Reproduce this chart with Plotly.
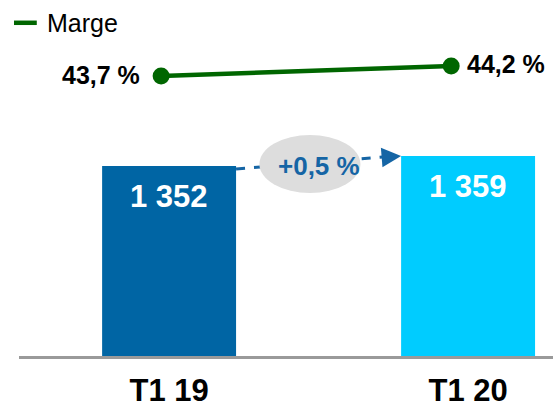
import plotly.graph_objects as go

categories = ["T1 19", "T1 20"]
revenue = [1352, 1359]
revenue_labels = ["1 352", "1 359"]
margin_pct = [43.7, 44.2]
margin_labels = ["43,7 %", "44,2 %"]
growth_label = "+0,5 %"
series_name = "Marge"

FONT = "Arial, 'Liberation Sans', sans-serif"
bar_colors = ["#0065A4", "#00CCFF"]
green = "#006600"
arrow_blue = "#1565A5"

fig = go.Figure()
fig.add_trace(go.Bar(
    x=categories, y=revenue, marker=dict(color=bar_colors, line=dict(width=0)),
    width=0.448, showlegend=False, hoverinfo="skip",
))
fig.add_trace(go.Scatter(
    x=categories, y=margin_pct, xaxis="x2", yaxis="y2", mode="lines+markers",
    name=series_name, line=dict(color=green, width=4.5),
    marker=dict(size=17, color=green), showlegend=False,
))

mid = revenue[0] + 1.4
ann = []
for c, v, t in zip(categories, revenue, revenue_labels):
    ann.append(dict(x=c, y=v, xref="x", yref="y", text=t, showarrow=False,
                    yanchor="middle", yshift=-30,
                    font=dict(family=FONT, size=31, color="white", weight="bold")))
ann.append(dict(x=categories[0], y=margin_pct[0], xref="x2", yref="y2", text=margin_labels[0],
                showarrow=False, xanchor="right", yanchor="middle", xshift=-19, yshift=1,
                font=dict(family=FONT, size=25, color="black", weight="bold")))
ann.append(dict(x=categories[1], y=margin_pct[1], xref="x2", yref="y2", text=margin_labels[1],
                showarrow=False, xanchor="left", yanchor="middle", xshift=14, yshift=2,
                font=dict(family=FONT, size=25, color="black", weight="bold")))
# arrow head at bar 2 top-left
ann.append(dict(x=1 - 0.224, y=revenue[1], xref="x", yref="y", ax=-16, ay=1.3, text="",
                showarrow=True, arrowhead=2, arrowsize=1.3, arrowwidth=3, arrowcolor=arrow_blue,
                standoff=0))
# growth label
ann.append(dict(x=0.5, y=mid, xref="x", yref="y", text=growth_label,
                showarrow=False, yshift=-2,
                font=dict(family=FONT, size=26, color=arrow_blue, weight="bold")))
# legend text
ann.append(dict(x=0, y=0.936, xref="paper", yref="paper", text=series_name, showarrow=False,
                xanchor="left", yanchor="middle", xshift=26,
                font=dict(family=FONT, size=25, color="black")))

shapes = [
    dict(type="line", xref="x", yref="y", x0=0 + 0.224, y0=revenue[0] - 2.1,
         x1=1 - 0.224 - 0.03, y1=revenue[1] - 0.2,
         line=dict(color=arrow_blue, width=3, dash="dash"), layer="above"),
    dict(type="circle", xref="x", yref="y", x0=0.302, x1=0.64,
         y0=mid - 20.3, y1=mid + 20.3,
         fillcolor="#DDDDDD", line=dict(width=0), layer="above"),
    # legend sample line
    dict(type="line", xref="paper", yref="paper", x0=-0.0094, x1=0.0333, y0=0.936, y1=0.936,
         line=dict(color=green, width=4.5)),
]

fig.update_layout(
    width=553, height=407,
    margin=dict(l=19, r=0, t=0, b=51, autoexpand=False),
    paper_bgcolor="white", plot_bgcolor="white",
    font=dict(family=FONT),
    xaxis=dict(type="category", range=[-0.502, 1.284], showgrid=False, zeroline=False,
               showline=True, linecolor="#9A9A9A", linewidth=3, ticks="", automargin=False,
               tickfont=dict(family=FONT, size=31, color="black", weight="bold"),
               ticklabelstandoff=5),
    yaxis=dict(range=[1219.0, 1468.2], visible=False, automargin=False),
    xaxis2=dict(type="category", overlaying="x", range=[-0.490, 1.351], visible=False),
    yaxis2=dict(overlaying="y", range=[29.7, 47.5], visible=False),
    showlegend=False,
    annotations=ann, shapes=shapes,
)

fig.write_html("out.html", config={"displayModeBar": False},
               post_script="document.body.style.margin='0';document.body.style.overflow='hidden';")
